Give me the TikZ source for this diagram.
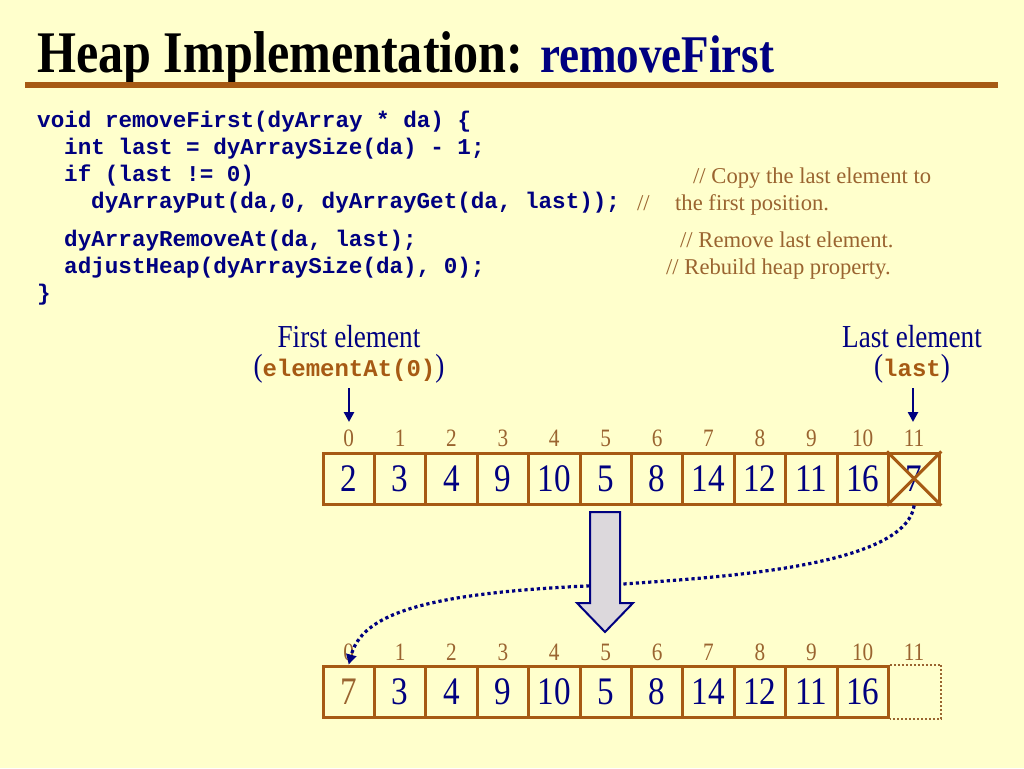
\documentclass[tikz,border=0pt]{standalone}
\usepackage{fontspec}
\setmainfont{Liberation Serif}
\newfontfamily\tmsc{Liberation Serif}[FakeStretch=0.85]
\newfontfamily\codef{Liberation Mono}
\usetikzlibrary{arrows.meta}
\definecolor{bg}{HTML}{FFFFCC}
\definecolor{navy}{HTML}{000080}
\definecolor{brn}{HTML}{A65A14}
\definecolor{cmt}{HTML}{9A6430}
\definecolor{blockfill}{HTML}{DCD8DC}
\tikzset{
  cell/.style={draw=brn, line width=3pt, minimum width=51.4pt, minimum height=51pt, inner sep=0pt,
    text=navy, font=\tmsc\fontsize{39}{41}\selectfont},
  idx/.style={anchor=base, text=cmt, inner sep=0pt, font=\tmsc\fontsize{25}{27}\selectfont},
  code/.style={anchor=base west, inner sep=0pt, text=navy, font=\codef\bfseries\fontsize{22.6}{26}\selectfont},
  cmnt/.style={anchor=base west, inner sep=0pt, text=cmt, font=\fontsize{22.6}{24}\selectfont},
  lbl/.style={anchor=base, inner sep=0pt, text=navy, font=\tmsc\fontsize{32}{34}\selectfont},
  ptr/.style={draw=navy, line width=2.5pt, -{Triangle[length=10pt,width=10pt]}},
  curvy/.style={draw=navy, line width=3.2pt, dash pattern=on 3.2pt off 3pt, -{Triangle[length=10pt,width=10pt]}},
  block/.style={draw=navy, line width=2pt, fill=blockfill, line join=miter}
}
\begin{document}
\begin{tikzpicture}[x=1pt,y=-1pt]
\fill[bg] (0,0) rectangle (1024,768);
\useasboundingbox (0,0) rectangle (1024,768);
% title
\node[anchor=base west, inner sep=0pt, font=\tmsc\bfseries\fontsize{59}{64}\selectfont] (title) at (37,72)
  {Heap Implementation: \textcolor{navy}{\fontsize{53}{58}\selectfont removeFirst}};
\fill[brn] (25,82) rectangle (998,88);
% code
\node[code] (l1) at (37,127) {void removeFirst(dyArray * da) \{};
\node[code] (l2) at (64,154) {int last = dyArraySize(da) - 1;};
\node[code] (l3) at (64,181) {if (last != 0)};
\node[code] (l4) at (91,208) {dyArrayPut(da,0, dyArrayGet(da, last));};
\node[code] (l5) at (64,246) {dyArrayRemoveAt(da, last);};
\node[code] (l6) at (64,273) {adjustHeap(dyArraySize(da), 0);};
\node[code] (l7) at (37,300) {\}};
% comments
\node[cmnt] (k1) at (693,183) {// Copy the last element to};
\node[cmnt] (k2a) at (637,210) {//};
\node[cmnt] (k2b) at (675,210) {the first position.};
\node[cmnt] (k3) at (680,247) {// Remove last element.};
\node[cmnt] (k4) at (666,274) {// Rebuild heap property.};
% labels
\node[lbl] (fe) at (349,347) {First element};
\node[lbl] (fe2) at (349,376) {(\textcolor{brn}{\codef\bfseries\fontsize{24}{27}\selectfont elementAt(0)})};
\node[lbl] (le) at (912,347) {Last element};
\node[lbl] (le2) at (912,376) {(\textcolor{brn}{\codef\bfseries\fontsize{24}{27}\selectfont last})};
\coordinate (p0s) at (349,388);
\coordinate (p0e) at (349,422);
\coordinate (p1s) at (913,388);
\coordinate (p1e) at (913,422);
\draw[ptr] (p0s) -- (p0e);
\draw[ptr] (p1s) -- (p1e);
% top array
\foreach \v [count=\i from 0] in {2,3,4,9,10,5,8,14,12,11,16,7} {
  \node[cell] (c\i) at ({323+51.4*(\i+0.5)},478.5) {\v};
  \node[idx] (ti\i) at ({323+51.4*(\i+0.5)},446) {\i};
}
\draw[brn, line width=3pt] (c11.north west) -- (c11.south east);
\draw[brn, line width=3pt] (c11.south west) -- (c11.north east);
% bottom array
\node[cell, text=cmt] (d0) at ({323+51.4*0.5},691.5) {7};
\foreach \v [count=\i from 1] in {3,4,9,10,5,8,14,12,11,16} {
  \node[cell] (d\i) at ({323+51.4*(\i+0.5)},691.5) {\v};
}
\node[cell, draw=none] (d11) at ({323+51.4*11.5},691.5) {};
\draw[cmt, line width=2pt, dash pattern=on 2pt off 2pt] (d10.north east) -- (d11.north east) -- (d11.south east) -- (d10.south east);
\foreach \i in {0,...,11} {
  \node[idx] (bi\i) at ({323+51.4*(\i+0.5)},660) {\i};
}
% dotted curve
\draw[curvy] (c11.south) .. controls (905,570) and (700,578) .. (610,585)
  .. controls (420,592) and (362,615) .. (d0.north);
% block arrow
\draw[block] (590,512) -- (620,512) -- (620,603) -- (633,603) -- (605,632) -- (577,603) -- (590,603) -- cycle;
\end{tikzpicture}
\end{document}
